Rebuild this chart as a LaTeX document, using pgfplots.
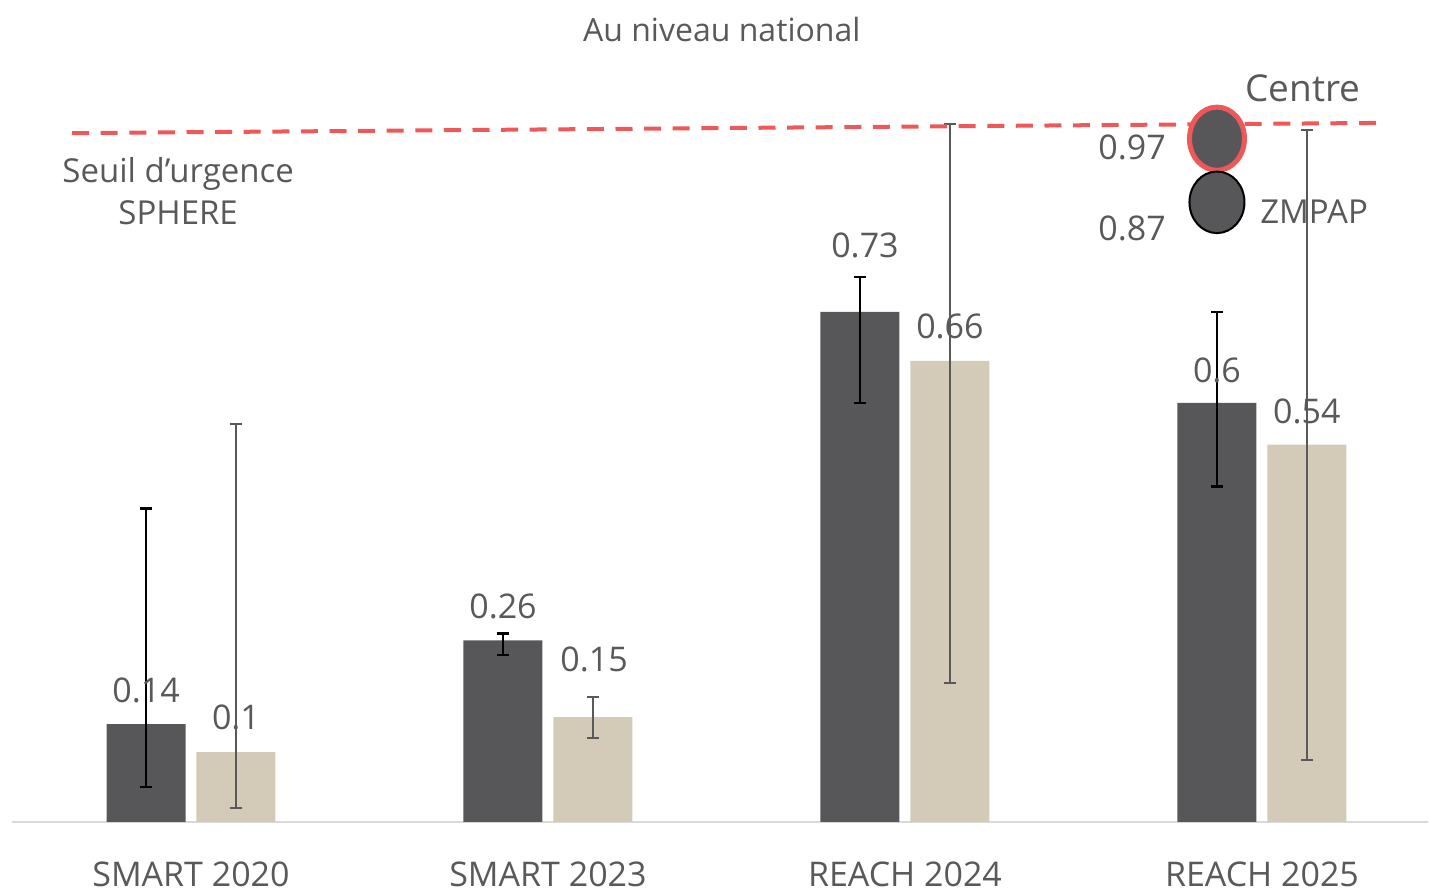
\documentclass[border=0pt]{standalone}
\usepackage{pgfplots}
\pgfplotsset{compat=1.18}
\usepackage{pgfplotstable}
\usepackage{fontspec}
\setmainfont{Open Sans}
\definecolor{darkbar}{HTML}{575759}
\definecolor{beigebar}{HTML}{D3CBB8}
\definecolor{txt}{HTML}{595959}
\definecolor{redline}{HTML}{EE5859}
\definecolor{basegray}{HTML}{D9D9D9}

\pgfplotstableread{
x y ep em
0 0.14 0.309 0.090
1 0.26 0.010 0.021
2 0.73 0.050 0.130
3 0.60 0.130 0.120
}\darkdata
\pgfplotstableread{
x y ep em
0 0.10 0.470 0.080
1 0.15 0.029 0.030
2 0.66 0.339 0.461
3 0.54 0.451 0.451
}\beigedata

\begin{document}
\begin{tikzpicture}
\begin{axis}[
  scale only axis,
  width=714.5pt, height=446pt,
  xmin=-0.535, xmax=3.468,
  ymin=-0.1002, ymax=1.1766,
  axis line style={draw=none},
  tick style={draw=none},
  ytick=\empty,
  xtick={0,1,2,3},
  xticklabels={SMART 2020, SMART 2023, REACH 2024, REACH 2025},
  xticklabel style={anchor=center, yshift=9pt, font=\fontsize{17}{20}\selectfont, text=txt},
  clip=false,
  every node/.append style={text=txt},
]
% baseline
\draw[draw=basegray, line width=1pt] (axis cs:-0.501,0) -- (axis cs:3.465,0);

% dark bars
\addplot[ybar, bar width=39.5pt, bar shift=0pt, fill=darkbar, draw=none,
  error bars/.cd, y dir=both, y explicit,
  error bar style={black, line width=1.2pt},
  error mark options={black, rotate=90, mark size=3pt, line width=1.2pt}]
  table[x expr=\thisrow{x}-0.126, y=y, y error plus=ep, y error minus=em] {\darkdata};

% beige bars
\addplot[ybar, bar width=39.5pt, bar shift=0pt, fill=beigebar, draw=none,
  error bars/.cd, y dir=both, y explicit,
  error bar style={txt, line width=1pt},
  error mark options={txt, rotate=90, mark size=3.2pt, line width=1pt}]
  table[x expr=\thisrow{x}+0.126, y=y, y error plus=ep, y error minus=em] {\beigedata};

% threshold line
\addplot[redline, line width=2pt, dash pattern=on 8.5pt off 5.8pt] coordinates {(-0.333,0.986) (3.319,1.0006)};

% circles
\addplot[only marks, mark=*, mark size=13.75pt,
  mark options={fill=darkbar, draw=redline, line width=2.5pt, yscale=1.15}]
  coordinates {(2.874,0.978)};
\addplot[only marks, mark=*, mark size=13.75pt,
  mark options={fill=darkbar, draw=black, line width=1pt, yscale=1.12}]
  coordinates {(2.874,0.887)};

% value labels
\begin{scope}[every node/.style={text=txt, font=\fontsize{17}{20}\selectfont, anchor=center}]
\node at (axis cs:-0.126,0.189) {0.14};
\node at (axis cs:0.126,0.149) {0.1};
\node at (axis cs:0.874,0.308) {0.26};
\node at (axis cs:1.129,0.232) {0.15};
\node at (axis cs:1.888,0.825) {0.73};
\node at (axis cs:2.126,0.709) {0.66};
\node at (axis cs:2.874,0.647) {0.6};
\node at (axis cs:3.126,0.588) {0.54};
\end{scope}

% other texts
\node[anchor=base, text=txt, font=\fontsize{16}{19}\selectfont] at (axis cs:1.487,1.1165) {Au niveau national};
\node[anchor=base, text=txt, font=\fontsize{18.5}{22}\selectfont] at (axis cs:3.115,1.0306) {Centre};
\node[anchor=base, text=txt, font=\fontsize{16.5}{20}\selectfont] at (axis cs:3.146,0.857) {ZMPAP};
\node[anchor=base, text=txt, font=\fontsize{17}{20}\selectfont] at (axis cs:2.636,0.948) {0.97};
\node[anchor=base, text=txt, font=\fontsize{17}{20}\selectfont] at (axis cs:2.636,0.833) {0.87};
\node[anchor=base, text=txt, font=\fontsize{16.5}{20}\selectfont] at (axis cs:-0.036,0.916) {Seuil d’urgence};
\node[anchor=base, text=txt, font=\fontsize{16.5}{20}\selectfont] at (axis cs:-0.036,0.8546) {SPHERE};
\end{axis}
\pgfresetboundingbox
\path (current axis.south west) rectangle (current axis.north east);
\end{tikzpicture}
\end{document}
